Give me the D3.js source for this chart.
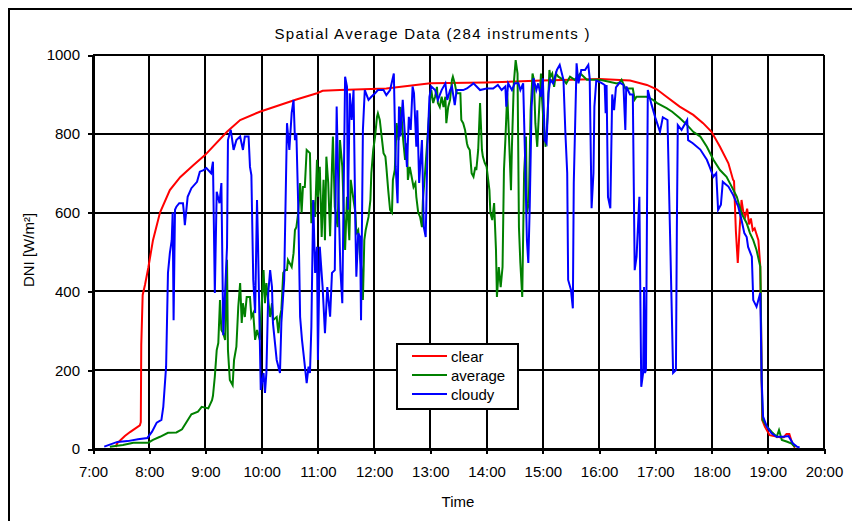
<!DOCTYPE html>
<html><head><meta charset="utf-8">
<script src="https://cdn.jsdelivr.net/npm/d3@7/dist/d3.min.js"></script>
<style>
body{margin:0;background:#fff}
svg{display:block}
text{font-family:"Liberation Sans",Arial,sans-serif;fill:#000}
</style></head><body>
<svg id="chart" width="852" height="521"></svg>
<script>
// ---- text ----
const titleText = "Spatial Average Data (284 instruments )";
const yAxisTitle = "DNI [W/m\u00B2]";
const xAxisTitle = "Time";
const seriesNames = ["clear", "average", "cloudy"];
const seriesColors = ["#ff0000", "#008000", "#0000ff"];

// ---- axes (time in minutes after midnight) ----
const hourTicks = [420, 480, 540, 600, 660, 720, 780, 840, 900, 960, 1020, 1080, 1140, 1200];
const hourLabels = ["7:00", "8:00", "9:00", "10:00", "11:00", "12:00", "13:00", "14:00", "15:00", "16:00", "17:00", "18:00", "19:00", "20:00"];
const yTicks = [0, 200, 400, 600, 800, 1000];

// ---- clear ----
const clearTimes = [444,446,454,459.5,470,471,471.5,473,475.5,479,484,491.5,502,513,527,539.5,563,577,598,619.5,637,659,665,683.5,733,780,839,899,961,993,1011,1021.5,1032,1046,1060.5,1071,1080,1089,1098,1103,1104,1106,1108,1110,1112,1114,1116,1118,1120,1122,1124,1126,1128,1130,1132,1133,1134,1137,1142,1153,1157,1160,1163,1166,1169];
const clearValues = [5,15,33,43,60,68,264,391,417,460,530,600,657,690,720,746,805,835,856,873,887,903,909,911,915,928,930,935,939,935,924,913,894,869,848,827,805,767,725,683,680,552,472,560,632,600,590,610,570,585,555,560,545,530,463,285,74,56,35,30,30,38,38,15,3];

// ---- average ----
const averageTimes = [
438,452,463,479,484,491.5,500,509,515,520,
525,532,536,543,547,548,550,552,553.7,555.5,
557,559,561,563,564,566,569,570.5,573,575,
577,578.7,580,582,584,587.5,589,591,593,595,
596,598,599.3,602,603.5,605,607,609,611,612,
616,617.8,619.5,621,623,625,627,628,632,634,
635.5,637,639,641,642.6,644,646,648,651.5,653,
655,657,659,660,662,664,666,667.5,669,671,
673,675,676,678,681,683.5,686,689,691,693.5,
695,698,700,701,703,705,707,708,709.5,711,
714,716,717,719,721,723,724,726,728,730,
732,733,735,737,739,740,742,744,746,748,
749,751,753,755,756,758,760,762,764,765,
767,769,771,772,774,776,778,780,781,783,
785,787,788,790,792,794,796,797,799,801,
803,804,806,808,812,813,815,817,819,820,
822,824,826,828,829,831,833,835,836,838,
840,843,844,846,848,850,851,853,855,857,
858.5,860,862,864,866,867,869,871,873,874.5,
876,878,880,882,883,885,887,889,890.5,892,
894,896,898,899,901,903,905,907,908,910,
912,914,916.5,922,925,929,934,940,947,961,
979,982,984,988,996,998,1000,1011,1017,1022,
1032,1038,1046,1054,1060.5,1068,1075,1082,1089,1096,
1101.5,1107,1112,1117.5,1121,1124.5,1128,1132,1132.5,1133.5,
1134.5,1139,1144,1149.5,1152,1155,1160,1165.5,1169];
const averageValues = [
6,10,16,16,23,31,41,42,50,69,
88,95,107,103,124,135,184,251,269,378,
302,294,277,480,251,175,162,226,260,361,
421,320,370,335,386,386,335,345,277,302,
294,277,335,454,370,421,378,335,370,327,
335,294,335,353,447,454,454,480,462,497,
556,563,600,675,600,665,665,759,751,573,
632,589,734,640,716,538,683,530,742,675,
540,720,793,615,563,784,716,505,640,530,
683,632,600,548,556,487,447,378,530,556,
589,632,700,759,793,843,852,835,793,751,
742,716,657,607,600,683,708,827,784,868,
852,784,734,776,683,716,691,665,675,640,
600,589,563,632,691,759,827,894,911,878,
894,919,878,868,894,868,894,827,868,886,
937,945,928,903,903,835,827,810,776,767,
759,700,691,716,708,759,878,759,742,726,
716,657,600,581,624,505,386,462,411,462,
708,784,903,784,657,767,928,987,953,563,
472,386,700,793,600,624,860,953,937,827,
767,860,953,894,818,767,843,962,945,953,
919,953,945,937,928,945,937,953,937,937,
928,930,937,915,915,887,894,894,887,878,
865,856,840,822,805,793,767,734,708,691,
666,640,598,573,548,530,505,463,396,175,
74,57,44,31,48,23,19,14,5];

// ---- cloudy ----
const cloudyTimes = [
432,446,457,468,478,483,488,493,495,498,
500,502,504,505,506,507.5,509,512,516,517,
518,521,525,531,534,538,541,546,548,550,
552,555,557,559,563,564,567,570,573,577,
580,582,586,587.5,589,591,593,595,596,599,
602,603.5,605,607,609,611,612,616,619.5,621,
624,627,629.5,632,634,635.5,637,639,641,643,
645,648,650,651.5,653,655,657,659,660,662,
665,667.5,670,673,675,678,680,682,684,686,
689,691,692,694,696,698,700,701,703,705,
706,708,710,714,717,721,724,730,733,737,
741,743,745,746.5,748,750.5,752,754,755,757,
759,761,762.5,765,766,768,771,773,775,777,
779,781,785,788,792,796,798,801,803,806,
808,812,815,819,826,833,840,847,852,856,
860,861,863,867,870,874,876,879,881,883,
884.5,886,888,890,893,895,898,900,902,904,
906,908,911,915,918,922,924,926,927,930,
932,933,936,938,941,945,948.5,950,952,954,
955,957,962,966,967,968,969.5,972,974,976,
978,982,986,988,989,993,996,998,1000,1003,
1005,1007,1008,1009,1010,1012,1016,1020,1025,1028,
1033,1036,1039,1042,1043,1044,1048,1054,1055,1060,
1068,1075,1078,1082,1085,1087,1090,1092,1098,1103,
1108.5,1112,1115,1117.5,1119,1123,1124.5,1128,1132,1133.5,
1135,1139,1144,1149.5,1157,1162,1167,1171,1174];
const cloudyValues = [
6,18,20,25,28,44,67,74,107,209,
447,497,530,600,327,607,615,624,624,600,
568,640,662,678,704,708,713,700,729,396,
653,624,675,289,513,784,810,759,784,793,
759,793,793,716,695,429,345,632,530,150,
193,142,193,396,454,411,320,226,193,320,
429,827,759,853,886,784,802,615,335,277,
234,167,209,193,310,632,447,513,226,513,
411,294,411,336,447,454,869,640,454,370,
945,920,607,903,835,911,563,437,548,538,
327,810,911,886,894,903,911,911,898,911,
953,716,624,869,793,886,827,751,716,843,
810,920,903,767,860,675,784,563,538,776,
894,920,911,886,911,928,886,911,920,873,
911,911,911,915,928,911,915,915,924,911,
920,869,928,911,928,928,911,928,742,530,
472,615,869,941,911,928,894,941,784,776,
903,937,928,962,975,937,805,700,429,404,
357,675,979,928,962,962,975,940,611,700,
869,935,930,924,852,924,640,611,900,860,
918,930,924,810,920,900,900,454,488,640,
158,193,411,193,200,911,874,841,805,842,
835,518,193,200,563,822,810,835,784,776,
760,734,716,691,700,607,620,678,666,645,
615,581,548,538,513,488,378,361,396,175,
82,57,40,31,31,33,14,6,4];

// ---- build ----
const svg = d3.select("#chart");
const plot = {left: 93, right: 824, top: 55, bottom: 449};
const x = d3.scaleLinear().domain([420, 1200]).range([plot.left, plot.right]);
const y = d3.scaleLinear().domain([0, 1000]).range([plot.bottom, plot.top]);

svg.append("rect").attr("width", 852).attr("height", 521).attr("fill", "#fff");
// outer chart frame (extends past the picture on right and bottom)
svg.append("rect").attr("x", 9).attr("y", 9).attr("width", 900).attr("height", 600)
  .attr("fill", "none").attr("stroke", "#000").attr("stroke-width", 2);

// title
svg.append("text").attr("x", 432).attr("y", 38.5).attr("text-anchor", "middle")
  .attr("font-size", 15).attr("textLength", 315).attr("lengthAdjust", "spacing").text(titleText);

// gridlines
const grid = svg.append("g").attr("shape-rendering", "crispEdges").attr("stroke", "#000").attr("stroke-width", 2);
grid.selectAll("line.v").data(hourTicks).join("line").attr("class", "v")
  .attr("x1", d => Math.round(x(d))).attr("x2", d => Math.round(x(d)))
  .attr("y1", plot.top).attr("y2", plot.bottom);
grid.selectAll("line.h").data(yTicks).join("line").attr("class", "h")
  .attr("x1", plot.left).attr("x2", plot.right)
  .attr("y1", d => Math.round(y(d))).attr("y2", d => Math.round(y(d)));

// axes
const yAxis = d3.axisLeft(y).tickValues(yTicks).tickSize(5).tickPadding(8).tickFormat(d3.format("d"));
const gy = svg.append("g").attr("transform", `translate(${plot.left},0)`).call(yAxis);
const xAxis = d3.axisBottom(x).tickValues(hourTicks).tickSize(5).tickPadding(12)
  .tickFormat((d, i) => hourLabels[i]);
const gx = svg.append("g").attr("transform", `translate(0,${plot.bottom})`).call(xAxis);
[gx, gy].forEach(g => {
  g.attr("shape-rendering", "crispEdges");
  g.select(".domain").attr("stroke", "#000").attr("stroke-width", 2);
  g.selectAll(".tick line").attr("stroke", "#000").attr("stroke-width", 2);
  g.selectAll(".tick text").attr("font-size", 15).attr("fill", "#000")
    .attr("font-family", '"Liberation Sans",Arial,sans-serif');
});

// axis titles
svg.append("text").attr("transform", "translate(33.5,250) rotate(-90)")
  .attr("text-anchor", "middle").attr("font-size", 15).text(yAxisTitle);
svg.append("text").attr("x", 458).attr("y", 506.5).attr("text-anchor", "middle")
  .attr("font-size", 15).text(xAxisTitle);

// series
const series = [
  clearTimes.map((t, i) => ({t, v: clearValues[i]})),
  averageTimes.map((t, i) => ({t, v: averageValues[i]})),
  cloudyTimes.map((t, i) => ({t, v: cloudyValues[i]}))
];
const line = d3.line().x(d => x(d.t)).y(d => y(d.v));
svg.append("g").selectAll("path").data(series).join("path")
  .attr("d", line).attr("fill", "none")
  .attr("stroke", (d, i) => seriesColors[i]).attr("stroke-width", 2)
  .attr("stroke-linejoin", "miter");

// legend
const lg = svg.append("g");
lg.append("rect").attr("x", 397).attr("y", 344).attr("width", 121).attr("height", 65)
  .attr("fill", "#fff").attr("stroke", "#000").attr("stroke-width", 2).attr("shape-rendering", "crispEdges");
const legendY = [356, 375, 394];
seriesNames.forEach((name, i) => {
  lg.append("line").attr("x1", 412).attr("x2", 447).attr("y1", legendY[i]).attr("y2", legendY[i])
    .attr("stroke", seriesColors[i]).attr("stroke-width", 2).attr("shape-rendering", "crispEdges");
  lg.append("text").attr("x", 451).attr("y", legendY[i] + 5.5).attr("font-size", 15).text(name);
});
</script>
</body></html>
